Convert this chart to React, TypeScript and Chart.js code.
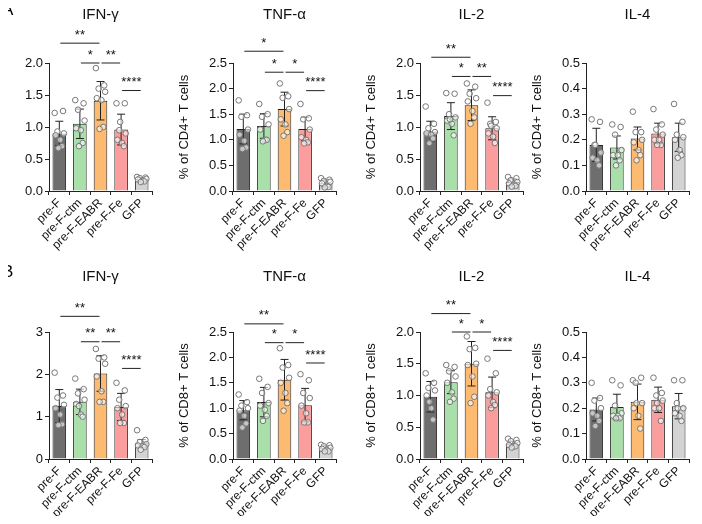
import React, { useEffect, useRef } from "react";
import { Chart, registerables } from "chart.js";
Chart.register(...registerables);

const groups = ["pre-F", "pre-F-ctm", "pre-F-EABR", "pre-F-Fe", "GFP"];
const colors = ["#6e6e6e", "#a9dfa9", "#fdbb72", "#fb9d9d", "#d3d3d3"];
const jitter = [-0.25, 0.2, -0.1, 0.25, -0.2, 0.05, 0.15, -0.05];

// Panel A (CD4+)
const aIfnMean = [0.9, 1.05, 1.41, 0.96, 0.18];
const aIfnSd = [0.19, 0.23, 0.3, 0.24, 0.03];
const aIfnPts = [[1.22,1.25,0.93,0.9,0.87,0.8,0.7,0.67],[1.42,1.37,1.27,1.1,0.98,0.95,0.75,0.7],[1.92,1.65,1.6,1.55,1.45,1.42,1.0,0.97],[1.37,1.37,0.95,0.9,0.8,0.75,0.7,1.08],[0.22,0.21,0.2,0.19,0.18,0.16,0.15,0.14]];
const aTnfMean = [1.21, 1.27, 1.6, 1.21, 0.15];
const aTnfSd = [0.29, 0.24, 0.33, 0.23, 0.07];
const aTnfPts = [[1.77,1.48,1.45,1.2,1.1,0.98,0.85,0.82],[1.7,1.5,1.45,1.3,1.2,1.0,1.0,0.97],[2.1,1.85,1.82,1.6,1.4,1.3,1.15,1.08],[1.7,1.42,1.4,1.2,1.05,1.0,0.95,0.93],[0.25,0.22,0.2,0.18,0.15,0.1,0.08,0.07]];
const aIl2Mean = [0.93, 1.17, 1.34, 0.98, 0.14];
const aIl2Sd = [0.16, 0.21, 0.24, 0.18, 0.05];
const aIl2Pts = [[1.32,1.05,0.98,0.92,0.9,0.88,0.82,0.75],[1.53,1.52,1.2,1.15,1.1,1.05,0.87,1.12],[1.68,1.63,1.52,1.45,1.4,1.25,1.15,1.05],[1.38,1.08,1.05,0.98,0.9,0.85,0.75,1.02],[0.22,0.2,0.17,0.14,0.12,0.1,0.08,0.07]];
const aIl4Mean = [0.18, 0.17, 0.205, 0.225, 0.21];
const aIl4Sd = [0.065, 0.045, 0.045, 0.04, 0.055];
const aIl4Pts = [[0.28,0.27,0.18,0.15,0.13,0.12,0.1,0.18],[0.26,0.25,0.22,0.16,0.14,0.14,0.12,0.1],[0.31,0.23,0.23,0.2,0.19,0.16,0.14,0.12],[0.32,0.26,0.24,0.22,0.2,0.2,0.18,0.18],[0.34,0.27,0.22,0.21,0.2,0.16,0.14,0.13]];

// Panel B (CD8+)
const bIfnMean = [1.25, 1.35, 2.02, 1.23, 0.37];
const bIfnSd = [0.39, 0.3, 0.42, 0.32, 0.09];
const bIfnPts = [[2.04,1.5,1.45,1.28,1.2,1.05,0.82,0.8],[1.9,1.65,1.55,1.4,1.3,1.05,1.0,1.25],[2.6,2.4,2.37,2.25,1.95,1.6,1.35,1.35],[1.8,1.62,1.4,1.25,1.2,1.05,0.85,0.85],[0.68,0.45,0.4,0.35,0.32,0.3,0.28,0.22]];
const bTnfMean = [0.96, 1.12, 1.56, 1.06, 0.21];
const bTnfSd = [0.19, 0.29, 0.4, 0.33, 0.05];
const bTnfPts = [[1.27,1.12,1.05,1.0,0.95,0.85,0.7,0.62],[1.58,1.42,1.3,1.1,1.05,0.97,0.85,0.75],[2.18,1.85,1.8,1.6,1.5,1.3,1.1,0.95],[1.67,1.55,1.3,1.2,1.05,0.9,0.72,0.72],[0.28,0.27,0.25,0.22,0.2,0.18,0.15,0.15]];
const bIl2Mean = [0.98, 1.21, 1.5, 1.05, 0.24];
const bIl2Sd = [0.24, 0.18, 0.35, 0.24, 0.04];
const bIl2Pts = [[1.35,1.2,1.12,1.08,1.0,0.8,0.62,0.9],[1.48,1.45,1.38,1.3,1.2,1.05,0.95,0.9],[1.93,1.75,1.73,1.5,1.48,1.3,0.98,0.88],[1.58,1.35,1.1,1.05,1.0,0.9,0.85,0.8],[0.32,0.3,0.28,0.25,0.22,0.2,0.2,0.18]];
const bIl4Mean = [0.195, 0.205, 0.225, 0.233, 0.208];
const bIl4Sd = [0.045, 0.05, 0.07, 0.05, 0.05];
const bIl4Pts = [[0.3,0.24,0.23,0.2,0.18,0.17,0.15,0.13],[0.31,0.29,0.21,0.18,0.17,0.17,0.16,0.16],[0.31,0.32,0.3,0.22,0.2,0.17,0.12,0.22],[0.32,0.26,0.25,0.23,0.2,0.2,0.15,0.22],[0.31,0.31,0.22,0.2,0.18,0.17,0.15,0.2]];

// brackets: [from, to, y, label]
type Br = [number, number, number, string];
const aIfnBr: Br[] = [[0,2,2.31,"**"],[1,2,2.0,"*"],[2,3,2.0,"**"],[3,4,1.57,"****"]];
const aTnfBr: Br[] = [[0,2,2.73,"*"],[1,2,2.32,"*"],[2,3,2.32,"*"],[3,4,1.96,"****"]];
const aIl2Br: Br[] = [[0,2,2.09,"**"],[1,2,1.79,"*"],[2,3,1.79,"**"],[3,4,1.49,"****"]];
const bIfnBr: Br[] = [[0,2,3.37,"**"],[1,2,2.77,"**"],[2,3,2.77,"**"],[3,4,2.14,"****"]];
const bTnfBr: Br[] = [[0,2,2.66,"**"],[1,2,2.29,"*"],[2,3,2.29,"*"],[3,4,1.89,"****"]];
const bIl2Br: Br[] = [[0,2,2.29,"**"],[1,2,2.0,"*"],[2,3,2.0,"*"],[3,4,1.71,"****"]];

const FONT = "'Liberation Sans', Arial, sans-serif";
const YW = 58;
const CW = 165;

interface PanelProps {
  left: number; top: number; height: number; plotTop: number;
  title: string; ylabel: string; mean: number[]; sd: number[]; pts: number[][];
  br: Br[]; max: number; step: number; dec: number;
}

function Panel(p: PanelProps) {
  const ref = useRef<HTMLCanvasElement>(null);
  useEffect(() => {
    const overlay = {
      id: "overlay",
      afterDatasetsDraw(chart: any) {
        const ctx = chart.ctx;
        const x = chart.scales.x, y = chart.scales.y;
        const step = x.getPixelForValue(1) - x.getPixelForValue(0);
        ctx.save();
        ctx.strokeStyle = "#222"; ctx.lineWidth = 1;
        p.mean.forEach((m, i) => {
          const cx = x.getPixelForValue(i);
          const yt = y.getPixelForValue(m + p.sd[i]);
          const yb = y.getPixelForValue(Math.max(0, m - p.sd[i]));
          ctx.beginPath(); ctx.moveTo(cx, yb); ctx.lineTo(cx, yt);
          ctx.moveTo(cx - 4, yt); ctx.lineTo(cx + 4, yt);
          ctx.moveTo(cx - 4, yb); ctx.lineTo(cx + 4, yb); ctx.stroke();
        });
        ctx.strokeStyle = "#777";
        ctx.fillStyle = "rgba(255,255,255,0.6)";
        p.pts.forEach((arr, i) => arr.forEach((v, j) => {
          const px = x.getPixelForValue(i) + jitter[j] * step * 0.9;
          const py = y.getPixelForValue(v);
          ctx.beginPath(); ctx.arc(px, py, 2.8, 0, Math.PI * 2); ctx.fill(); ctx.stroke();
        }));
        ctx.strokeStyle = "#222";
        ctx.fillStyle = "#111"; ctx.font = `13px ${FONT}`; ctx.textAlign = "center";
        p.br.forEach(([a, b, v, lab]) => {
          const x1 = x.getPixelForValue(a) + 1, x2 = x.getPixelForValue(b) - 1;
          const yy = y.getPixelForValue(v);
          ctx.beginPath(); ctx.moveTo(x1, yy); ctx.lineTo(x2, yy); ctx.stroke();
          ctx.textBaseline = "middle";
          ctx.fillText(lab, (x1 + x2) / 2, yy - 8);
        });
        ctx.font = `15px ${FONT}`; ctx.textBaseline = "alphabetic";
        ctx.fillText(p.title, (chart.chartArea.left + chart.chartArea.right) / 2, 19);
        ctx.restore();
      },
    };
    const chart = new Chart(ref.current!, {
      type: "bar",
      data: {
        labels: groups,
        datasets: [
          { data: p.mean, backgroundColor: colors, borderColor: "#222", borderWidth: 1, barPercentage: 0.66, categoryPercentage: 1 },
        ],
      },
      options: {
        animation: false, responsive: false,
        layout: { padding: { top: p.plotTop, right: 4, left: 0 } },
        plugins: { legend: { display: false }, tooltip: { enabled: false } },
        scales: {
          x: {
            grid: { display: true, drawOnChartArea: false, tickLength: 4, color: "#222" },
            border: { color: "#222" },
            ticks: { autoSkip: false, maxRotation: 45, minRotation: 45, color: "#111", font: { family: FONT, size: 12 }, padding: 1 },
            afterFit: (s: any) => { s.height = 62; s.paddingLeft = 0; s.paddingRight = 0; },
          },
          y: {
            min: 0, max: p.max,
            grid: { display: true, drawOnChartArea: false, tickLength: 4, color: "#222" },
            border: { color: "#222" },
            ticks: { stepSize: p.step, color: "#111", font: { family: FONT, size: 13 }, padding: 2, callback: (v: any) => Number(v).toFixed(p.dec) },
            title: { display: true, text: p.ylabel, color: "#111", font: { family: FONT, size: 13 }, padding: 2 },
            afterFit: (s: any) => { s.width = YW; },
          },
        },
      } as any,
      plugins: [overlay],
    });
    return () => chart.destroy();
  }, []);
  return (
    <canvas ref={ref} width={CW} height={p.height}
      style={{ position: "absolute", left: p.left, top: p.top, width: CW, height: p.height }} />
  );
}

export default function App() {
  const cols = [49, 233, 420, 586];
  const A = "% of CD4+ T cells", B = "% of CD8+ T cells";
  const aTop = 0, aPlot = 63, aH = 191 + 62;
  const bTop = 262, bPlot = 70, bH = 197 + 62;
  const L = (c: number) => c - YW;
  return (
    <div style={{ position: "relative", width: 702, height: 524, background: "#fff", margin: -8, fontFamily: FONT }}>
      <Panel left={L(cols[0])} top={aTop} height={aH} plotTop={aPlot} title="IFN-γ" ylabel={A} mean={aIfnMean} sd={aIfnSd} pts={aIfnPts} br={aIfnBr} max={2} step={0.5} dec={1} />
      <Panel left={L(cols[1])} top={aTop} height={aH} plotTop={aPlot} title="TNF-α" ylabel={A} mean={aTnfMean} sd={aTnfSd} pts={aTnfPts} br={aTnfBr} max={2.5} step={0.5} dec={1} />
      <Panel left={L(cols[2])} top={aTop} height={aH} plotTop={aPlot} title="IL-2" ylabel={A} mean={aIl2Mean} sd={aIl2Sd} pts={aIl2Pts} br={aIl2Br} max={2} step={0.5} dec={1} />
      <Panel left={L(cols[3])} top={aTop} height={aH} plotTop={aPlot} title="IL-4" ylabel={A} mean={aIl4Mean} sd={aIl4Sd} pts={aIl4Pts} br={[]} max={0.5} step={0.1} dec={1} />
      <Panel left={L(cols[0])} top={bTop} height={bH} plotTop={bPlot} title="IFN-γ" ylabel={B} mean={bIfnMean} sd={bIfnSd} pts={bIfnPts} br={bIfnBr} max={3} step={1} dec={0} />
      <Panel left={L(cols[1])} top={bTop} height={bH} plotTop={bPlot} title="TNF-α" ylabel={B} mean={bTnfMean} sd={bTnfSd} pts={bTnfPts} br={bTnfBr} max={2.5} step={0.5} dec={1} />
      <Panel left={L(cols[2])} top={bTop} height={bH} plotTop={bPlot} title="IL-2" ylabel={B} mean={bIl2Mean} sd={bIl2Sd} pts={bIl2Pts} br={bIl2Br} max={2} step={0.5} dec={1} />
      <Panel left={L(cols[3])} top={bTop} height={bH} plotTop={bPlot} title="IL-4" ylabel={B} mean={bIl4Mean} sd={bIl4Sd} pts={bIl4Pts} br={[]} max={0.5} step={0.1} dec={1} />
      <div style={{ position: "absolute", left: 2, top: 0, fontSize: 17, zIndex: 5 }}>A</div>
      <div style={{ position: "absolute", left: 2, top: 262, fontSize: 17, zIndex: 5 }}>B</div>
    </div>
  );
}
